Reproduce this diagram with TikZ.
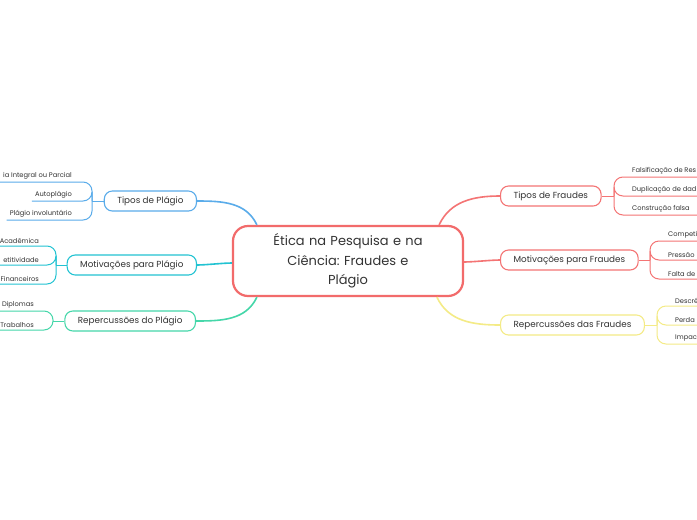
\documentclass[tikz,border=0pt]{standalone}
\usepackage{fontspec}
\setmainfont{Poppins}
\usetikzlibrary{positioning,calc}
\definecolor{txt}{HTML}{333333}
\definecolor{cmain}{HTML}{F26B6B}
\definecolor{cblue}{HTML}{5AACEA}
\definecolor{cteal}{HTML}{22C3D2}
\definecolor{cgreen}{HTML}{45D7A9}
\definecolor{cred}{HTML}{F47474}
\definecolor{cyel}{HTML}{F4EB86}
\frenchspacing

\begin{document}
\begin{tikzpicture}[x=1pt,y=-1pt,
  topic/.style={draw=#1,line width=1.1pt,fill=white,rounded corners=8pt,minimum height=20pt,inner xsep=13pt,font=\fontsize{8.8}{11}\selectfont,text=txt},
  leaf/.style={inner xsep=3pt,inner ysep=2.5pt,font=\fontsize{6.7}{8}\selectfont,text=txt},
  link/.style={draw=#1,line width=1.6pt},
  twig/.style={draw=#1,line width=1pt,rounded corners=9pt}]
\clip (0,0) rectangle (697,520);
\fill[white] (0,0) rectangle (697,520);
% central topic
\node[draw=cmain,line width=2.2pt,fill=white,rounded corners=15pt,minimum width=230pt,minimum height=70pt,
  text width=205pt,align=center,font=\fontsize{13}{19.5}\selectfont,text=txt] (ctr) at (348,261)
  {Ética na Pesquisa e na\\ Ciência: Fraudes e\\ Plágio};
% main topics
\node[topic=cblue,anchor=east] (tplag) at (197,201) {Tipos de Plágio};
\node[topic=cteal,anchor=east] (mplag) at (197,265) {Motivações para Plágio};
\node[topic=cgreen,anchor=east] (rplag) at (196,321) {Repercussões do Plágio};
\node[topic=cred,anchor=west] (tfrau) at (500,196) {Tipos de Fraudes};
\node[topic=cred,anchor=west] (mfrau) at (500,260) {Motivações para Fraudes};
\node[topic=cyel,anchor=west] (rfrau) at (500,325) {Repercussões das Fraudes};
\draw[link=cblue] (tplag.east) to[out=0,in=115] ($(ctr.north west)+(25,0)$);
\draw[link=cteal] (mplag.east) to[out=0,in=180,looseness=0.6] ($(ctr.west)+(0,2)$);
\draw[link=cgreen] (rplag.east) to[out=0,in=-115] ($(ctr.south west)+(25,0)$);
\draw[link=cred] (tfrau.west) to[out=180,in=65] ($(ctr.north east)+(-25,0)$);
\draw[link=cred] (mfrau.west) to[out=180,in=0,looseness=0.6] ($(ctr.east)+(0,1)$);
\draw[link=cyel] (rfrau.west) to[out=180,in=-65] ($(ctr.south west)+(205,0)$);
% subtopics, left
\coordinate (jtp) at (92,201);
\node[leaf,anchor=south east] (tp1) at (75,182) {ia Integral ou Parcial};
\node[leaf,anchor=south east] (tp2) at (75,201) {Autoplágio};
\node[leaf,anchor=south east] (tp3) at (75,220) {Plágio involuntário};
\draw[twig=cblue] (tplag.west) -- (jtp);
\foreach \n in {tp1,tp2,tp3} \draw[twig=cblue] (jtp) |- (\n.south west);
\coordinate (jmp) at (56,265);
\node[leaf,anchor=south east] (mp1) at (42,246) {Acadêmica};
\node[leaf,anchor=south east] (mp2) at (42,265) {etitividade};
\node[leaf,anchor=south east] (mp3) at (42,284) {Financeiros};
\draw[twig=cteal] (mplag.west) -- (jmp);
\foreach \n in {mp1,mp2,mp3} \draw[twig=cteal] (jmp) |- (\n.south west) -- ++(-20,0);
\coordinate (jrp) at (53,321);
\node[leaf,anchor=south east] (rp1) at (37,311) {Diplomas};
\node[leaf,anchor=south east] (rp2) at (37,330) {Trabalhos};
\draw[twig=cgreen] (rplag.west) -- (jrp);
\foreach \n in {rp1,rp2} \draw[twig=cgreen] (jrp) |- (\n.south west);
% subtopics, right
\coordinate (jtf) at (614,196);
\node[leaf,anchor=south west] (tf1) at (629,177) {Falsificação de Res};
\node[leaf,anchor=south west] (tf2) at (629,196) {Duplicação de dad};
\node[leaf,anchor=south west] (tf3) at (629,215) {Construção falsa};
\draw[twig=cred] (tfrau.east) -- (jtf);
\foreach \n in {tf1,tf2,tf3} \draw[twig=cred] (jtf) |- (\n.south east) -- ++(40,0);
\coordinate (jmf) at (650,260);
\node[leaf,anchor=south west] (mf1) at (665,241) {Competi};
\node[leaf,anchor=south west] (mf2) at (665,260) {Pressão};
\node[leaf,anchor=south west] (mf3) at (665,279) {Falta de};
\draw[twig=cred] (mfrau.east) -- (jmf);
\foreach \n in {mf1,mf2,mf3} \draw[twig=cred] (jmf) |- (\n.south east) -- ++(40,0);
\coordinate (jrf) at (657,325);
\node[leaf,anchor=south west] (rf1) at (672,306) {Descré};
\node[leaf,anchor=south west] (rf2) at (672,325) {Perda};
\node[leaf,anchor=south west] (rf3) at (672,344) {Impac};
\draw[twig=cyel] (rfrau.east) -- (jrf);
\foreach \n in {rf1,rf2,rf3} \draw[twig=cyel] (jrf) |- (\n.south east) -- ++(40,0);
\end{tikzpicture}
\end{document}
